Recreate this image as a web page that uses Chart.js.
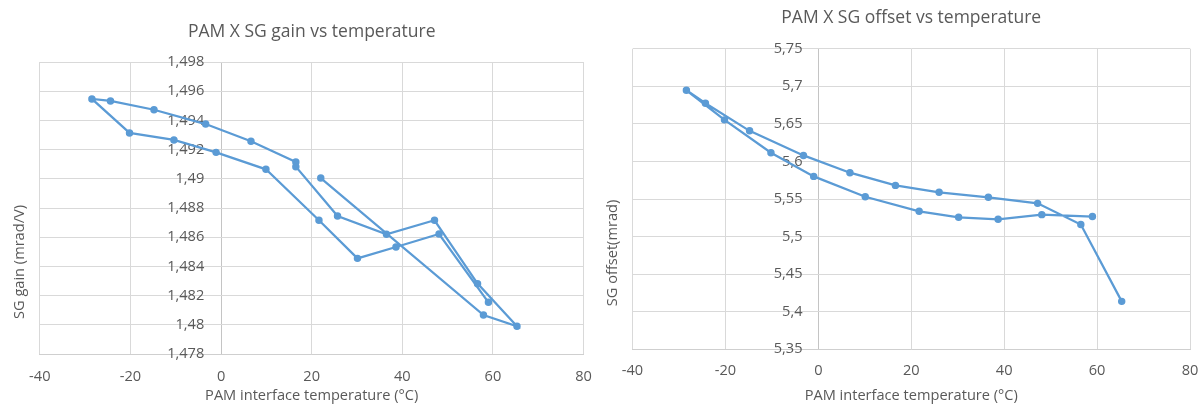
<!DOCTYPE html>
<html>
<head>
<meta charset="utf-8">
<script src="https://cdn.jsdelivr.net/npm/chart.js@4/dist/chart.umd.min.js"></script>
<style>
  html, body { margin: 0; padding: 0; background: #fff; }
  #wrap { position: relative; width: 1199px; height: 408px; overflow: hidden; }
  .box { position: absolute; top: 0; height: 408px; }
</style>
</head>
<body>
<div id="wrap">
  <div class="box" style="left:0; width:600px;"><canvas id="gainChart" width="600" height="408"></canvas></div>
  <div class="box" style="left:600px; width:599px;"><canvas id="offsetChart" width="599" height="408"></canvas></div>
</div>
<script>
// temperature cycle (°C)
const gainTemp = [22.0, 57.9, 65.3, 56.6, 47.1, 36.5, 25.7, 16.5, 16.5, 6.6, -3.4, -14.8, -24.4, -28.5,
  -20.2, -10.4, -1.1, 9.9, 21.6, 30.1, 38.6, 48.1, 59.0];
const gainValues = [1.49005, 1.48067, 1.47990, 1.48282, 1.48716, 1.48620, 1.48745, 1.49083, 1.49115, 1.49257,
  1.49375, 1.49473, 1.49533, 1.49547, 1.49314, 1.49266, 1.49181, 1.49065, 1.48716, 1.48455, 1.48533,
  1.48622, 1.48154];

const offsetTemp = [65.3, 56.5, 47.2, 36.6, 26.0, 16.6, 6.8, -3.2, -14.8, -24.3, -28.4, -20.2, -10.2, -1.0,
  10.1, 21.7, 30.2, 38.7, 48.1, 59.0];
const offsetValues = [5.4138, 5.5160, 5.5442, 5.5522, 5.5589, 5.5681, 5.5850, 5.6080, 5.6407, 5.6774, 5.6947,
  5.6553, 5.6115, 5.5801, 5.5530, 5.5336, 5.5257, 5.5230, 5.5292, 5.5266];

const xTicks = [-40, -20, 0, 20, 40, 60, 80];
const gainTicks = { min: 1.478, max: 1.498, step: 0.002 };
const offsetTicks = { min: 5.35, max: 5.75, step: 0.05 };

const BLUE = "#5B9BD5";
const TEXT = "#595959";
const GRID = "#D9D9D9";

Chart.defaults.font.family = "'Open Sans', sans-serif";
Chart.defaults.color = TEXT;

// rotated y title, Excel puts it a bit below the middle
const sideTitle = {
  id: "sideTitle",
  afterDraw(chart, args, opts) {
    const ctx = chart.ctx;
    ctx.save();
    ctx.translate(opts.x, opts.y);
    ctx.rotate(-Math.PI / 2);
    ctx.font = "14.6px 'Open Sans'";
    ctx.fillStyle = TEXT;
    ctx.textAlign = "center";
    ctx.textBaseline = "middle";
    ctx.fillText(opts.text, 0, 0);
    ctx.restore();
  }
};

const comma = (v, d) => String(parseFloat(v.toFixed(d))).replace(".", ",");

function makeChart(id, cfg) {
  const points = cfg.temps.map((t, i) => ({ x: t, y: cfg.values[i] }));
  return new Chart(document.getElementById(id), {
    type: "scatter",
    data: {
      datasets: [{
        data: points,
        showLine: true,
        borderColor: BLUE,
        backgroundColor: BLUE,
        borderWidth: 2.25,
        pointRadius: 2.6,
        pointHoverRadius: 2.6,
        tension: 0
      }]
    },
    plugins: [sideTitle],
    options: {
      responsive: false,
      animation: false,
      layout: { padding: { left: cfg.padLeft, right: cfg.padRight, top: 0, bottom: 0 } },
      plugins: {
        legend: { display: false },
        tooltip: { enabled: false },
        title: {
          display: true,
          text: cfg.title,
          color: TEXT,
          font: { size: 17.5, weight: "normal" },
          padding: cfg.titlePad
        },
        sideTitle: cfg.yTitle
      },
      scales: {
        x: {
          type: "linear",
          min: xTicks[0],
          max: xTicks[xTicks.length - 1],
          afterBuildTicks: s => { s.ticks = xTicks.map(v => ({ value: v })); },
          afterFit: s => { s.height = cfg.xHeight; },
          // gap under the plot comes from an invisible tick mark, so it does not eat the right margin
          ticks: { font: { size: 14.6 }, padding: 0, callback: v => String(v) },
          grid: {
            drawTicks: true,
            tickLength: cfg.xTickGap,
            tickColor: "rgba(0,0,0,0)",
            color: c => (c.tick && c.tick.value === 0 ? "#C4C4C4" : GRID)
          },
          border: { color: "#CFCFCF" },
          title: {
            display: true,
            text: "PAM interface temperature (°C)",
            font: { size: 14.6 },
            padding: { top: 0, bottom: 3.4 }
          }
        },
        y: {
          type: "linear",
          position: "left",
          min: cfg.ticks.min,
          max: cfg.ticks.max,
          ticks: { display: false, stepSize: cfg.ticks.step },
          afterFit: s => { s.width = 0; },
          grid: { drawTicks: false, color: GRID },
          border: { display: false }
        },
        // tick labels sit against the x = 0 line, as in Excel
        yLabels: {
          axis: "y",
          type: "linear",
          position: { x: cfg.labelAt },
          min: cfg.ticks.min,
          max: cfg.ticks.max,
          ticks: {
            stepSize: cfg.ticks.step,
            font: { size: 14.6 },
            padding: 0,
            callback: v => comma(v, cfg.digits)
          },
          grid: { display: false },
          border: { display: false }
        }
      }
    }
  });
}

makeChart("gainChart", {
  temps: gainTemp,
  values: gainValues,
  ticks: gainTicks,
  digits: 3,
  title: "PAM X SG gain vs temperature",
  titlePad: { top: 21.5, bottom: 19.5 },
  padLeft: 39.8,
  padRight: 16.4,
  xHeight: 54,
  xTickGap: 14.5,
  labelAt: -3.7,
  yTitle: { text: "SG gain (mrad/V)", x: 20, y: 262 }
});

makeChart("offsetChart", {
  temps: offsetTemp,
  values: offsetValues,
  ticks: offsetTicks,
  digits: 2,
  title: "PAM X SG offset vs temperature",
  titlePad: { top: 7.9, bottom: 19.8 },
  padLeft: 32.5,
  padRight: 9,
  xHeight: 58.7,
  xTickGap: 12.8,
  labelAt: -3.4,
  yTitle: { text: "SG offset(mrad)", x: 13, y: 253 }
});
</script>
</body>
</html>
